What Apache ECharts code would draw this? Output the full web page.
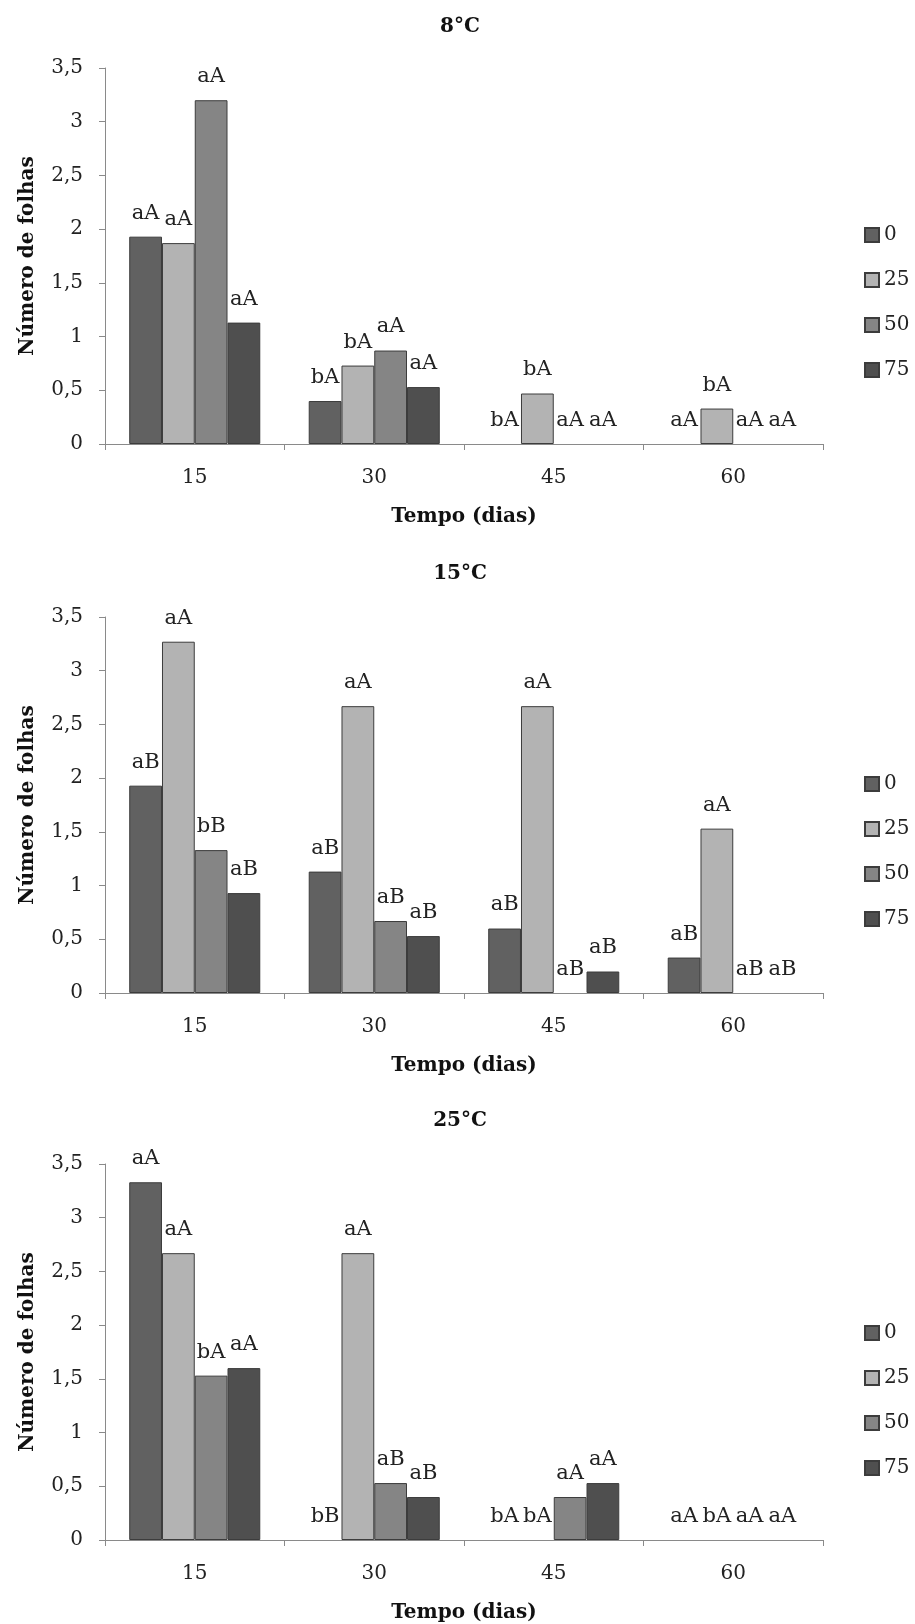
<!DOCTYPE html>
<html>
<head>
<meta charset="utf-8">
<script src="https://cdn.jsdelivr.net/npm/echarts@6/dist/echarts.min.js"></script>
<style>
html,body{margin:0;padding:0;background:#fff;}
#chart{width:915px;height:1624px;}
</style>
</head>
<body>
<div id="chart"></div>
<script>
// ---- DATA ----
const categories = ['15', '30', '45', '60'];
const seriesNames = ['0', '25', '50', '75'];
const panelTitles = ['8°C', '15°C', '25°C'];
const xAxisTitle = 'Tempo (dias)';
const yAxisTitle = 'Número de folhas';

// 8°C
const t8_v0  = [1.93, 0.40, 0, 0];
const t8_v25 = [1.87, 0.73, 0.47, 0.33];
const t8_v50 = [3.20, 0.87, 0, 0];
const t8_v75 = [1.13, 0.53, 0, 0];
const t8_l0  = ['aA', 'bA', 'bA', 'aA'];
const t8_l25 = ['aA', 'bA', 'bA', 'bA'];
const t8_l50 = ['aA', 'aA', 'aA', 'aA'];
const t8_l75 = ['aA', 'aA', 'aA', 'aA'];

// 15°C
const t15_v0  = [1.93, 1.13, 0.60, 0.33];
const t15_v25 = [3.27, 2.67, 2.67, 1.53];
const t15_v50 = [1.33, 0.67, 0, 0];
const t15_v75 = [0.93, 0.53, 0.20, 0];
const t15_l0  = ['aB', 'aB', 'aB', 'aB'];
const t15_l25 = ['aA', 'aA', 'aA', 'aA'];
const t15_l50 = ['bB', 'aB', 'aB', 'aB'];
const t15_l75 = ['aB', 'aB', 'aB', 'aB'];

// 25°C
const t25_v0  = [3.33, 0, 0, 0];
const t25_v25 = [2.67, 2.67, 0, 0];
const t25_v50 = [1.53, 0.53, 0.40, 0];
const t25_v75 = [1.60, 0.40, 0.53, 0];
const t25_l0  = ['aA', 'bB', 'bA', 'aA'];
const t25_l25 = ['aA', 'aA', 'bA', 'bA'];
const t25_l50 = ['bA', 'aB', 'aA', 'aA'];
const t25_l75 = ['aA', 'aB', 'aA', 'aA'];

const yMin = 0, yMax = 3.5, yStep = 0.5;

// ---- STYLE / LAYOUT ----
const colors = ['#616161', '#b3b3b3', '#858585', '#4f4f4f'];
const FONT = 'DejaVu Serif';
const panels = [
  { title: panelTitles[0], vals: [t8_v0, t8_v25, t8_v50, t8_v75], labs: [t8_l0, t8_l25, t8_l50, t8_l75], top: 68, height: 376, titleY: 12, legendTop: 220 },
  { title: panelTitles[1], vals: [t15_v0, t15_v25, t15_v50, t15_v75], labs: [t15_l0, t15_l25, t15_l50, t15_l75], top: 617, height: 376, titleY: 559, legendTop: 769 },
  { title: panelTitles[2], vals: [t25_v0, t25_v25, t25_v50, t25_v75], labs: [t25_l0, t25_l25, t25_l50, t25_l75], top: 1164, height: 376, titleY: 1106, legendTop: 1318 }
];

const grid = [], xAxis = [], yAxis = [], series = [], title = [], legend = [];
panels.forEach((p, gi) => {
  grid.push({ left: 105, width: 718, top: p.top, height: p.height, containLabel: false });
  title.push({
    text: p.title, left: 455, top: p.titleY, textAlign: 'center',
    textStyle: { fontFamily: FONT, fontWeight: 'bold', fontSize: 20, color: '#111' }
  });
  legend.push({
    data: seriesNames, orient: 'vertical', left: 859, top: p.legendTop,
    itemWidth: 14, itemHeight: 14, itemGap: 25, icon: 'rect',
    textStyle: { fontFamily: FONT, fontSize: 20, color: '#222', lineHeight: 20 },
    selectedMode: false
  });
  xAxis.push({
    type: 'category', gridIndex: gi, data: categories,
    axisLine: { lineStyle: { color: '#8a8a8a', width: 1 } },
    axisTick: { show: true, alignWithLabel: false, length: 6, lineStyle: { color: '#8a8a8a' } },
    axisLabel: { fontFamily: FONT, fontSize: 20, color: '#222', margin: 24 },
    name: xAxisTitle, nameLocation: 'middle', nameGap: 63,
    nameTextStyle: { fontFamily: FONT, fontWeight: 'bold', fontSize: 20, color: '#111' }
  });
  yAxis.push({
    type: 'value', gridIndex: gi, min: yMin, max: yMax, interval: yStep,
    axisLine: { show: true, lineStyle: { color: '#8a8a8a', width: 1 } },
    axisTick: { show: true, length: 6, lineStyle: { color: '#8a8a8a' } },
    splitLine: { show: false },
    axisLabel: {
      fontFamily: FONT, fontSize: 20, color: '#222', margin: 22,
      formatter: v => String(v).replace('.', ',')
    },
    name: yAxisTitle, nameLocation: 'middle', nameGap: 67,
    nameTextStyle: { fontFamily: FONT, fontWeight: 'bold', fontSize: 20, color: '#111' }
  });
  seriesNames.forEach((sn, si) => {
    const vals = p.vals[si], labs = p.labs[si];
    series.push({
      type: 'bar', name: sn, xAxisIndex: gi, yAxisIndex: gi,
      barGap: '0%', barCategoryGap: '27%',
      itemStyle: { color: colors[si], borderColor: '#3c3c3c', borderWidth: 1 },
      data: vals.map((v, i) => ({
        value: v,
        itemStyle: v === 0 ? { borderWidth: 0 } : undefined,
        label: { formatter: labs[i] }
      })),
      label: {
        show: true, position: 'top', distance: 13,
        fontFamily: FONT, fontSize: 21, color: '#222'
      },
      animation: false
    });
  });
});

const chart = echarts.init(document.getElementById('chart'), null, { renderer: 'canvas' });
chart.setOption({
  animation: false,
  backgroundColor: '#ffffff',
  title, legend, grid, xAxis, yAxis, series
});
</script>
</body>
</html>
